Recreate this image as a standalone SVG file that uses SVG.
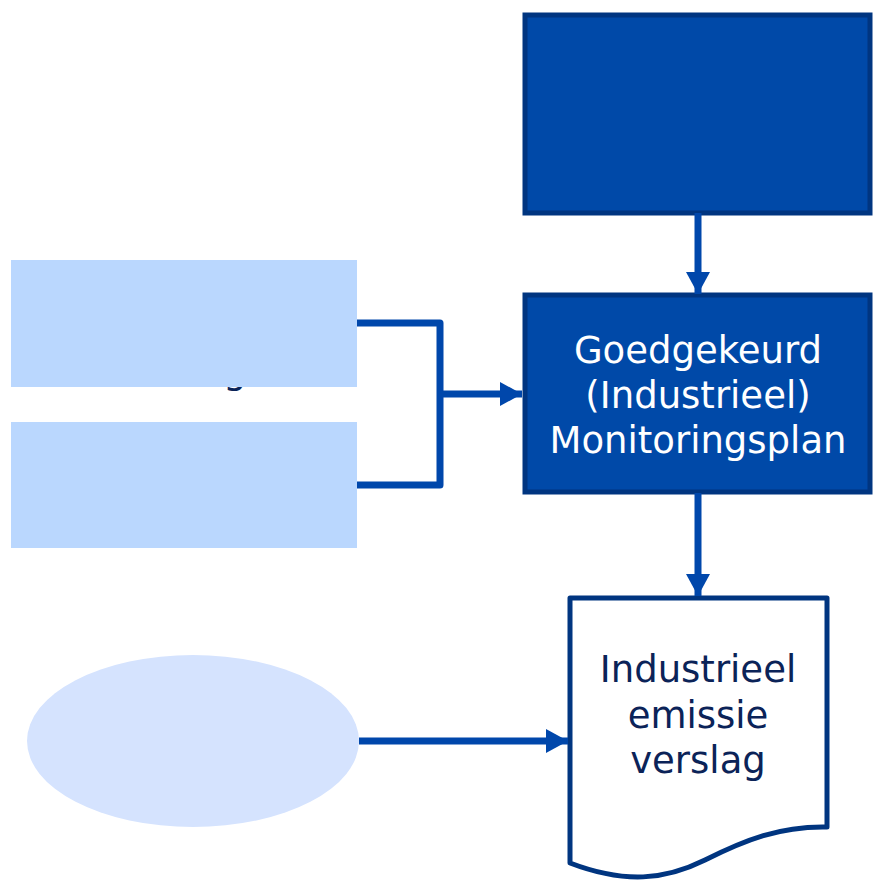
<svg xmlns="http://www.w3.org/2000/svg" width="873" height="882" viewBox="0 0 873 882">
<style>
.dark{fill:#0049A8;stroke:#003580;stroke-width:5}
.light{fill:#BAD7FE}
.conn{fill:none;stroke:#0047AB;stroke-width:7;stroke-linejoin:round}
.t{font-family:"DejaVu Sans",Verdana,sans-serif;font-size:37px;text-anchor:middle}
</style>
<defs>
<marker id="ah" markerUnits="userSpaceOnUse" markerWidth="24" markerHeight="26" refX="22" refY="12" orient="auto">
<path d="M0,0 L22,12 L0,24 Z" fill="#0047AB"/>
</marker>
</defs>
<text x="235" y="383" class="t" fill="#0B2358" font-size="30">g</text>
<g id="box-left-top"><rect class="light" x="11" y="260" width="346" height="127"/></g>
<g id="box-left-bottom"><rect class="light" x="11" y="422" width="346" height="126"/></g>
<g id="ellipse"><ellipse cx="193" cy="741" rx="166" ry="86" fill="#D5E3FE"/></g>
<g id="box-top"><rect class="dark" x="525" y="15" width="345" height="198"/></g>
<g id="box-plan"><rect class="dark" x="525" y="295" width="345" height="197"/>
<text class="t" fill="#FFFFFF" x="698" y="363">Goedgekeurd</text>
<text class="t" fill="#FFFFFF" x="698" y="408">(Industrieel)</text>
<text class="t" fill="#FFFFFF" x="698" y="453">Monitoringsplan</text>
</g>
<g id="doc"><path d="M570,598 L827,598 L827,827 C780,826 745,840 705,860 C665,880 625,884 570,863 Z" fill="#FFFFFF" stroke="#003580" stroke-width="5" stroke-linejoin="round"/>
<text class="t" fill="#0B2358" x="698" y="682">Industrieel</text>
<text class="t" fill="#0B2358" x="698" y="728">emissie</text>
<text class="t" fill="#0B2358" x="698" y="773">verslag</text>
</g>
<g id="connectors">
<path class="conn" d="M357,323 L440,323 L440,485 L357,485"/>
<path class="conn" d="M440,394 L522,394" marker-end="url(#ah)"/>
<path class="conn" d="M698,213 L698,294" marker-end="url(#ah)"/>
<path class="conn" d="M698,493 L698,596" marker-end="url(#ah)"/>
<path class="conn" d="M359,741 L568,741" marker-end="url(#ah)"/>
</g>
</svg>
